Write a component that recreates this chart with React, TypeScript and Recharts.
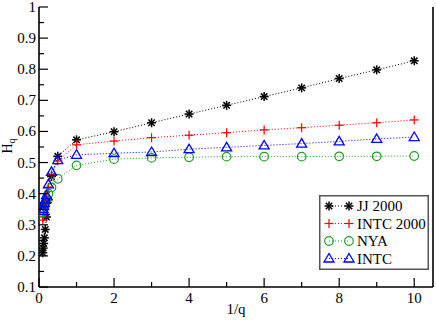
import { LineChart, Line, XAxis, YAxis } from 'recharts'

// 1/q values
const invQ = [0.1, 0.111, 0.125, 0.143, 0.167, 0.2, 0.25, 0.333, 0.5, 1, 2, 3, 4, 5, 6, 7, 8, 9, 10]

const jj2000 = [0.21, 0.225, 0.24, 0.258, 0.285, 0.325, 0.38, 0.455, 0.52, 0.573, 0.599, 0.628, 0.656, 0.684, 0.712, 0.74, 0.77, 0.798, 0.827]
const intc2000 = [0.315, 0.325, 0.34, 0.355, 0.37, 0.39, 0.42, 0.46, 0.505, 0.557, 0.569, 0.58, 0.588, 0.596, 0.605, 0.612, 0.62, 0.628, 0.637]
const nya = [0.34, 0.345, 0.353, 0.36, 0.368, 0.38, 0.4, 0.42, 0.448, 0.491, 0.511, 0.515, 0.517, 0.519, 0.519, 0.519, 0.52, 0.52, 0.521]
const intc = [0.345, 0.35, 0.36, 0.37, 0.38, 0.395, 0.43, 0.47, 0.508, 0.525, 0.53, 0.534, 0.543, 0.549, 0.555, 0.561, 0.568, 0.576, 0.582]

const xTicks = [0, 1, 2, 3, 4, 5, 6, 7, 8, 9, 10]
const yTicks = [0.1, 0.15, 0.2, 0.25, 0.3, 0.35, 0.4, 0.45, 0.5, 0.55, 0.6, 0.65, 0.7, 0.75, 0.8, 0.85, 0.9, 0.95, 1]

const FONT = "'Liberation Serif', 'DejaVu Serif', serif"
const GREEN = '#1f9e1f'

const toPoints = (ys: number[]) => invQ.map((x, i) => ({ x, y: ys[i] }))

type Mark = 'star' | 'plus' | 'circle' | 'triangle'

function Marker({ kind, cx, cy, color }: { kind: Mark; cx: number; cy: number; color: string }) {
  if (kind === 'star') {
    const r = 4.5
    const d = r * 0.71
    return (
      <g stroke={color} strokeWidth={1.5}>
        <line x1={cx - r} y1={cy} x2={cx + r} y2={cy} />
        <line x1={cx} y1={cy - r} x2={cx} y2={cy + r} />
        <line x1={cx - d} y1={cy - d} x2={cx + d} y2={cy + d} />
        <line x1={cx - d} y1={cy + d} x2={cx + d} y2={cy - d} />
      </g>
    )
  }
  if (kind === 'plus') {
    const r = 4.5
    return (
      <g stroke={color} strokeWidth={1.2}>
        <line x1={cx - r} y1={cy} x2={cx + r} y2={cy} />
        <line x1={cx} y1={cy - r} x2={cx} y2={cy + r} />
      </g>
    )
  }
  if (kind === 'circle') {
    return <circle cx={cx} cy={cy} r={4.3} fill="none" stroke={color} strokeWidth={1.2} />
  }
  const s = 5
  return (
    <polygon
      points={`${cx},${cy - s} ${cx - s},${cy + s * 0.7} ${cx + s},${cy + s * 0.7}`}
      fill="none"
      stroke={color}
      strokeWidth={1.3}
    />
  )
}

const series = [
  { name: 'JJ 2000', data: toPoints(jj2000), color: '#000000', mark: 'star' as Mark },
  { name: 'INTC 2000', data: toPoints(intc2000), color: '#ff0000', mark: 'plus' as Mark },
  { name: 'NYA', data: toPoints(nya), color: GREEN, mark: 'circle' as Mark },
  { name: 'INTC', data: toPoints(intc), color: '#0000ff', mark: 'triangle' as Mark },
]

const isMajorY = (v: number) => Math.round(v * 100) % 10 === 0

function BottomTick({ x, y, payload }: any) {
  const major = payload.value % 2 === 0
  return (
    <g>
      <line x1={x} y1={y} x2={x} y2={y - (major ? 9 : 5)} stroke="#000" strokeWidth={1.2} />
      {major && (
        <text x={x} y={y + 16} textAnchor="middle" style={{ fontFamily: FONT }} fontSize={15} fill="#000">
          {payload.value}
        </text>
      )}
    </g>
  )
}

function TopTick({ x, y, payload }: any) {
  const major = payload.value % 2 === 0
  return <line x1={x} y1={y} x2={x} y2={y + (major ? 9 : 5)} stroke="#000" strokeWidth={1.2} />
}

function LeftTick({ x, y, payload }: any) {
  const major = isMajorY(payload.value)
  return (
    <g>
      <line x1={x} y1={y} x2={x + (major ? 9 : 5)} y2={y} stroke="#000" strokeWidth={1.2} />
      {major && (
        <text x={x - 3} y={y + 5} textAnchor="end" style={{ fontFamily: FONT }} fontSize={15} fill="#000">
          {Number(payload.value.toFixed(1))}
        </text>
      )}
    </g>
  )
}

function RightTick({ x, y, payload }: any) {
  const major = isMajorY(payload.value)
  return <line x1={x} y1={y} x2={x - (major ? 9 : 5)} y2={y} stroke="#000" strokeWidth={1.2} />
}

function LegendBox() {
  return (
    <svg width={110} height={75} style={{ display: 'block' }}>
      <rect x={0.75} y={0.75} width={108.5} height={73.5} fill="#fff" stroke="#555" strokeWidth={1.5} />
      {series.map((s, i) => {
        const cy = 11 + i * 17.5
        return (
          <g key={s.name}>
            <line x1={10} y1={cy} x2={30} y2={cy} stroke={s.color} strokeWidth={1} strokeDasharray="1 2" />
            <Marker kind={s.mark} cx={10} cy={cy} color={s.color} />
            <Marker kind={s.mark} cx={30} cy={cy} color={s.color} />
            <text x={38} y={cy + 5} style={{ fontFamily: FONT }} fontSize={15} fill="#000">
              {s.name}
            </text>
          </g>
        )
      })}
    </svg>
  )
}

export default function App() {
  return (
    <div style={{ position: 'absolute', left: 0, top: 0, width: 436, height: 327, background: '#fff' }}>
      <LineChart width={436} height={327} margin={{ top: 7, right: 0, bottom: 0, left: 0 }}>
        <XAxis
          dataKey="x"
          type="number"
          domain={[0, 10.5]}
          ticks={xTicks}
          interval={0}
          allowDataOverflow
          height={40}
          tickSize={0}
          tickMargin={0}
          tick={<BottomTick />}
          axisLine={{ stroke: '#000', strokeWidth: 1.6 }}
          label={{
            content: ({ viewBox }: any) => (
              <text
                x={viewBox.x + viewBox.width / 2}
                y={viewBox.y + 27}
                textAnchor="middle"
                style={{ fontFamily: FONT }}
                fontSize={15}
                fill="#000"
              >
                1/q
              </text>
            ),
          }}
        />
        <XAxis
          xAxisId="top"
          orientation="top"
          dataKey="x"
          type="number"
          domain={[0, 10.5]}
          ticks={xTicks}
          interval={0}
          height={0}
          tickSize={0}
          tickMargin={0}
          tick={<TopTick />}
          axisLine={{ stroke: '#000', strokeWidth: 1.6 }}
        />
        <YAxis
          type="number"
          domain={[0.1, 1]}
          ticks={yTicks}
          interval={0}
          allowDataOverflow
          width={39}
          tickSize={0}
          tickMargin={0}
          tick={<LeftTick />}
          axisLine={{ stroke: '#000', strokeWidth: 1.6 }}
          label={{
            content: ({ viewBox }: any) => {
              const cx = 12
              const cy = viewBox.y + viewBox.height / 2 - 1
              return (
                <text
                  transform={`translate(${cx},${cy}) rotate(-90)`}
                  textAnchor="middle"
                  style={{ fontFamily: FONT }}
                  fontSize={14}
                  fill="#000"
                >
                  H
                  <tspan fontSize={10} dy={3}>
                    q
                  </tspan>
                </text>
              )
            },
          }}
        />
        <YAxis
          yAxisId="right"
          orientation="right"
          type="number"
          domain={[0.1, 1]}
          ticks={yTicks}
          interval={0}
          width={3}
          tickSize={0}
          tickMargin={0}
          tick={<RightTick />}
          axisLine={{ stroke: '#000', strokeWidth: 1.6 }}
        />
        {series.map((s) => (
          <Line
            key={s.name}
            data={s.data}
            dataKey="y"
            name={s.name}
            type="linear"
            stroke={s.color}
            strokeWidth={1}
            strokeDasharray="1 2"
            isAnimationActive={false}
            dot={(p: any) => <Marker key={`${s.name}-${p.index}`} kind={s.mark} cx={p.cx} cy={p.cy} color={s.color} />}
            activeDot={false}
          />
        ))}
      </LineChart>
      <div style={{ position: 'absolute', left: 319, top: 195 }}>
        <LegendBox />
      </div>
    </div>
  )
}
